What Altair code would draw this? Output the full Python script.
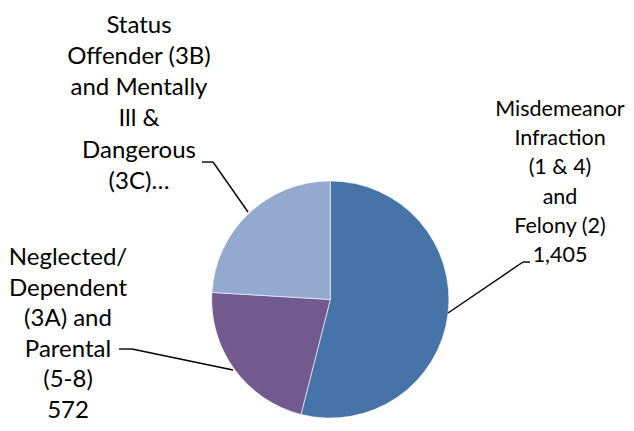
import altair as alt
import pandas as pd

categories = [
    "Misdemeanor Infraction (1 & 4) and Felony (2)",
    "Neglected/ Dependent (3A) and Parental (5-8)",
    "Status Offender (3B) and Mentally Ill & Dangerous (3C)",
]
values = [1405, 572, 626]
colors = ["#4673A8", "#725A8E", "#94A9CE"]

misd_lines = ["Misdemeanor", "Infraction", "(1 & 4)", "and", "Felony (2)", "1,405"]
negl_lines = ["Neglected/", "Dependent", "(3A) and", "Parental", "(5-8)", "572"]
status_lines = ["Status", "Offender (3B)", "and Mentally", "Ill &", "Dangerous", "(3C)…"]

df = pd.DataFrame({"category": categories, "value": values, "order": [0, 1, 2]})
labels = pd.DataFrame({
    "category": categories,
    "text": ["\n".join(misd_lines), "\n".join(negl_lines), "\n".join(status_lines)],
})
one = pd.DataFrame({"k": [0]})

M = 8  # page margin
CX, CY, R = 330.3 - M, 299.5 - M, 118.6

pie = alt.Chart(df).mark_arc(outerRadius=R, stroke="white", strokeWidth=0.6).encode(
    theta=alt.Theta("value:Q", stack=True),
    color=alt.Color("category:N", scale=alt.Scale(domain=categories, range=colors), legend=None),
    order=alt.Order("order:Q"),
    x=alt.value(CX),
    y=alt.value(CY),
)


def label(cat, x, y, lh, fs):
    return alt.Chart(labels).transform_filter(alt.datum.category == cat).mark_text(
        lineBreak="\n", font="Lato", fontSize=fs, lineHeight=lh,
        align="center", baseline="alphabetic", color="black",
    ).encode(text="text:N", x=alt.value(x - M), y=alt.value(y - M))


def seg(x1, y1, x2, y2):
    return alt.Chart(one).mark_rule(color="black", strokeWidth=1.4).encode(
        x=alt.value(x1 - M), y=alt.value(y1 - M), x2=alt.value(x2 - M), y2=alt.value(y2 - M)
    )


layers = [
    pie,
    seg(448, 313, 523, 262), seg(523, 262, 530, 262),
    seg(248, 212, 213, 162), seg(213, 162, 202, 162),
    seg(233, 370, 132, 349), seg(132, 349, 119, 349),
    label(categories[0], 560, 116, 29.2, 21.5),
    label(categories[1], 68, 265, 30.6, 24),
    label(categories[2], 139, 32.5, 31.3, 24),
]

chart = alt.layer(*layers).properties(
    width=618, height=415,
    autosize=alt.AutoSizeParams(type="none"),
    padding=0,
).configure_view(stroke=None)

chart.save("out.html", embed_options={"renderer": "svg", "actions": False})
